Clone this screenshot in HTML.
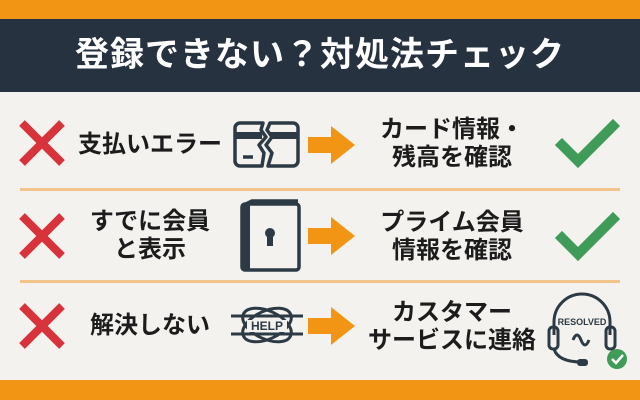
<!DOCTYPE html>
<html><head><meta charset="utf-8"><style>
*{margin:0;padding:0;box-sizing:border-box}
body{width:640px;height:400px;overflow:hidden;background:#f3f2ee;position:relative;font-family:"Liberation Sans","Noto Sans CJK JP",sans-serif;font-weight:bold;color:#1c1c1c}
.a{position:absolute}
.top{left:0;top:0;width:640px;height:19px;background:#f39514}
.hdr{left:0;top:19px;width:640px;height:73px;background:#263240;color:#fff;font-size:34px;text-align:center;line-height:73px;letter-spacing:1px}
.bot{left:0;top:380px;width:640px;height:20px;background:#f39514}
.sep{left:20px;width:600px;height:3px;background:#f3c48c}
.t{font-size:24px;line-height:28px;text-align:center}
.r{font-size:24px;line-height:28px;text-align:center;width:180px;left:362px}
</style></head><body>
<div class="a top"></div>
<div class="a hdr">登録できない？対処法チェック</div>
<div class="a sep" style="top:188px"></div>
<div class="a sep" style="top:280px"></div>
<div class="a bot"></div>

<svg class="a" style="left:0;top:0" width="640" height="400">
<g stroke="#d8333a" stroke-width="8" stroke-linecap="butt">
<path d="M22 123 L62 163 M62 123 L22 163"/>
<path d="M22 216 L62 256 M62 216 L22 256"/>
<path d="M22 306 L62 346 M62 306 L22 346"/>
</g>
<g fill="none" stroke="#2c3a45" stroke-width="3.5" stroke-linejoin="round">
<path d="M263 123 H240 a5 5 0 0 0 -5 5 V161 a5 5 0 0 0 5 5 H262 L264 153 L259 145 L266 137 L261 130 Z"/>
<path d="M270 123 H293 a5 5 0 0 1 5 5 V161 a5 5 0 0 1 -5 5 H268 L272 153 L266 145 L272 137 L267 130 Z"/>
<line x1="243" y1="157" x2="253" y2="157"/>
<rect x="242" y="204" width="57" height="66" rx="3"/>
<path d="M242 206 L252 201 H298"/>
</g>
<rect x="236" y="132" width="26" height="7" fill="#2c3a45"/><rect x="270" y="132" width="27" height="7" fill="#2c3a45"/>
<rect x="242" y="204" width="8" height="66" fill="#2c3a45"/>
<circle cx="270" cy="233" r="5" fill="#2c3a45"/><rect x="267" y="234" width="6" height="12" fill="#2c3a45"/>
<g fill="none" stroke="#2c3a45" stroke-width="3">
<ellipse cx="267" cy="325" rx="26" ry="14" transform="rotate(-25 267 325)"/>
<ellipse cx="267" cy="325" rx="26" ry="14" transform="rotate(25 267 325)"/>
<path d="M231 316 H303 M231 334 H303"/>
<path d="M554 335 V322 a28 28 0 0 1 56 0 V335"/>
<rect x="549" y="327" width="9" height="22" rx="4"/><rect x="606" y="327" width="9" height="22" rx="4"/>
<path d="M554 349 Q558 362 582 362"/>
<path d="M573 340 q4 -10 8 0 t8 0"/>
</g>
<text x="582" y="325" font-size="9" text-anchor="middle" fill="#2c3a45" font-family="Liberation Sans" font-weight="bold">RESOLVED</text>
<rect x="577" y="359" width="11" height="7" rx="3" fill="#2c3a45"/>
<circle cx="617" cy="359" r="10" fill="#3e9b58"/><path d="M612 359 l4 4 l7 -8" stroke="#fff" stroke-width="2.5" fill="none"/>
<rect x="247" y="320" width="40" height="12" fill="#f3f2ee"/>
<text x="267" y="330" font-size="12" text-anchor="middle" fill="#2c3a45" font-family="Liberation Sans" font-weight="bold">HELP</text>
<g fill="#f39514">
<path d="M308 137 H331 V126 L355 145 L331 164 V153 H308 Z"/>
<path d="M308 228 H331 V217 L355 236 L331 255 V244 H308 Z"/>
<path d="M308 318 H331 V307 L355 326 L331 345 V334 H308 Z"/>
</g>
<g stroke="#3e9b58" stroke-width="10" fill="none" stroke-linecap="square">
<path d="M562 145 L578 161 L613 126"/>
<path d="M562 238 L578 254 L613 219"/>
</g>
</svg>

<div class="a t" style="left:72px;top:131px;width:156px">支払いエラー</div>
<div class="a t" style="left:72px;top:208px;width:156px">すでに会員<br>と表示</div>
<div class="a t" style="left:72px;top:312px;width:156px">解決しない</div>

<div class="a r" style="top:116px">カード情報・<br>残高を確認</div>
<div class="a r" style="top:209px">プライム会員<br>情報を確認</div>
<div class="a r" style="top:299px">カスタマー<br>サービスに連絡</div>
</body></html>
